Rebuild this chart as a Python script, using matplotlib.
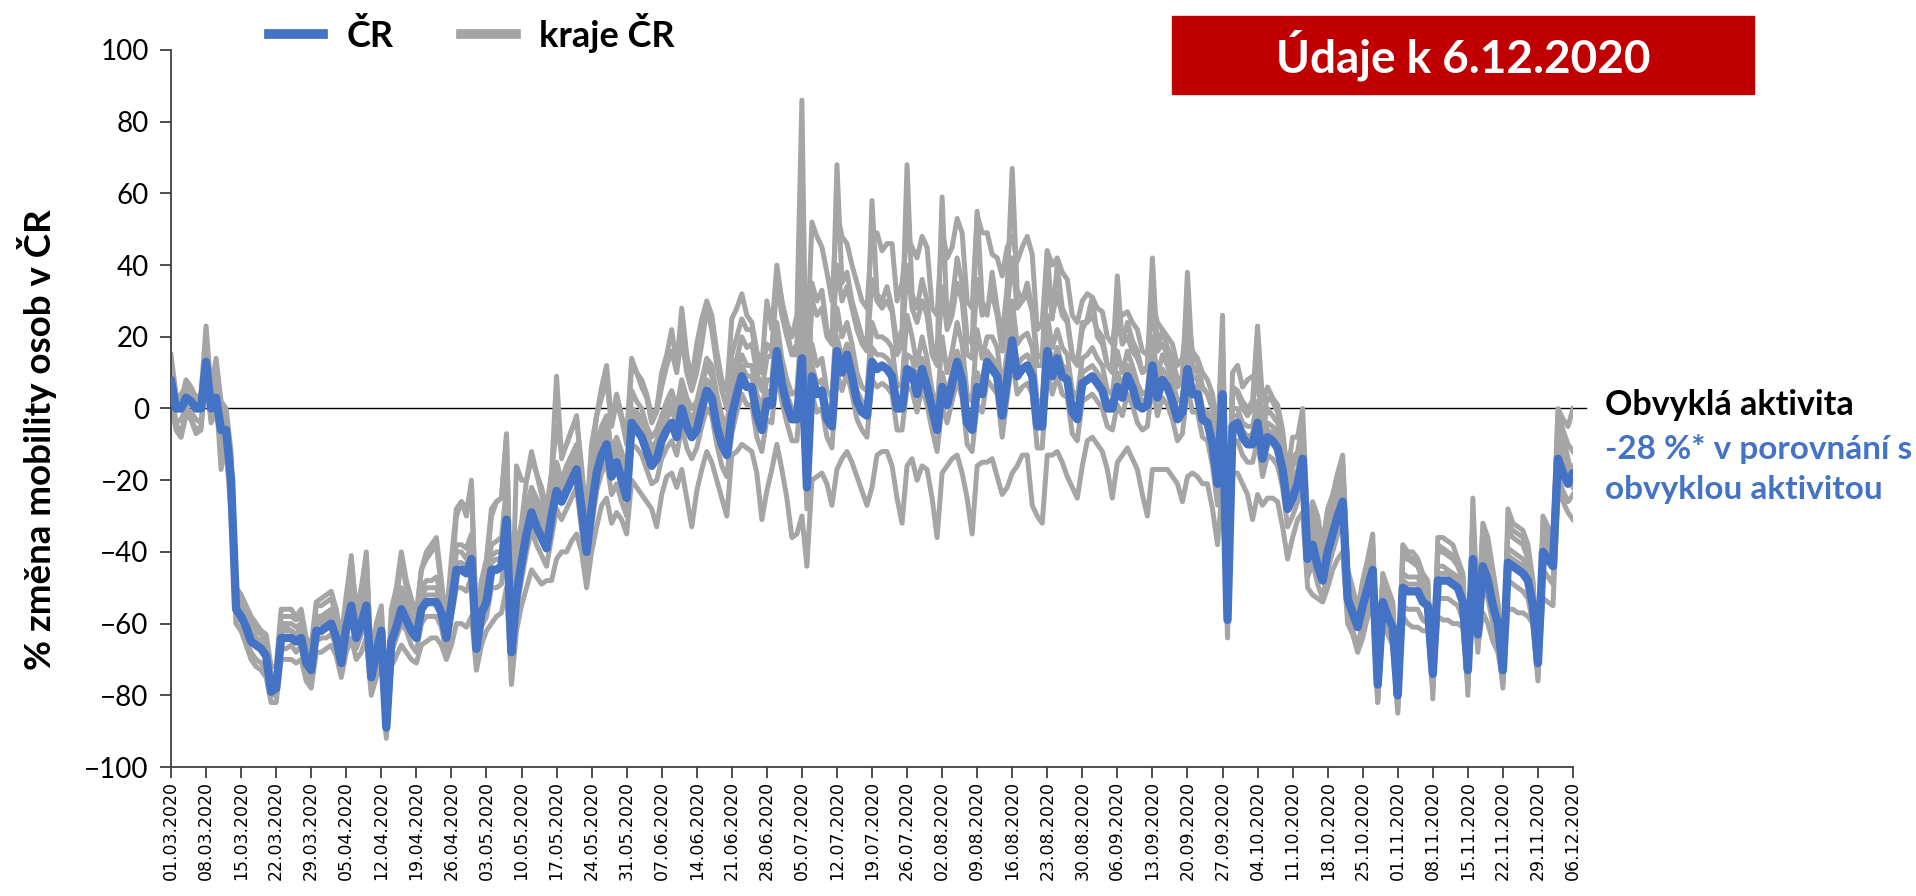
import matplotlib
matplotlib.use("Agg")
import matplotlib.pyplot as plt
from matplotlib.patches import Rectangle
from matplotlib.lines import Line2D

plt.rcParams['font.family'] = ['Lato', 'DejaVu Sans']

BLUE = '#4472C4'
GREY = '#A5A5A5'

# weekly tick labels (Sundays)
tick_labels = [
    '01.03.2020', '08.03.2020', '15.03.2020', '22.03.2020', '29.03.2020',
    '05.04.2020', '12.04.2020', '19.04.2020', '26.04.2020', '03.05.2020',
    '10.05.2020', '17.05.2020', '24.05.2020', '31.05.2020', '07.06.2020',
    '14.06.2020', '21.06.2020', '28.06.2020', '05.07.2020', '12.07.2020',
    '19.07.2020', '26.07.2020', '02.08.2020', '09.08.2020', '16.08.2020',
    '23.08.2020', '30.08.2020', '06.09.2020', '13.09.2020', '20.09.2020',
    '27.09.2020', '04.10.2020', '11.10.2020', '18.10.2020', '25.10.2020',
    '01.11.2020', '08.11.2020', '15.11.2020', '22.11.2020', '29.11.2020',
    '06.12.2020',
]

# daily % change, 01.03.2020 - 06.12.2020 (one row = one week, Sun..Sat)
cr = [
    8, 0, 0, 3, 2, 0, 0,
    13, 0, 3, -6, -6, -20, -56,
    -58, -61, -65, -66, -67, -69, -79,
    -78, -64, -64, -64, -65, -64, -71,
    -73, -62, -62, -61, -60, -64, -71,
    -61, -55, -64, -60, -55, -75, -68,
    -62, -89, -65, -61, -56, -59, -62,
    -64, -56, -54, -54, -54, -57, -64,
    -55, -45, -45, -46, -42, -67, -57,
    -54, -45, -45, -44, -31, -68, -52,
    -43, -35, -29, -33, -36, -39, -30,
    -23, -26, -23, -20, -17, -28, -40,
    -28, -18, -13, -10, -19, -15, -20,
    -25, -4, -6, -8, -12, -16, -14,
    -9, -6, -4, -8, 0, -5, -8,
    -6, 0, 5, 3, -5, -10, -13,
    -2, 4, 9, 6, 6, -2, -6,
    2, 1, 16, 7, 1, -3, -3,
    14, -22, 9, 4, 5, -3, -5,
    16, 10, 15, 9, 2, -1, -2,
    13, 11, 12, 11, 9, 0, 0,
    11, 10, 4, 11, 6, 0, -6,
    6, 1, 7, 13, 8, -4, -6,
    6, 4, 13, 11, 9, -2, 8,
    19, 9, 11, 12, 9, -5, -5,
    16, 9, 14, 9, 8, -1, -3,
    7, 8, 9, 7, 5, 0, 0,
    6, 3, 9, 6, 1, 0, 1,
    12, 3, 8, 6, 2, -3, -1,
    11, 4, 4, -3, -4, -10, -21,
    4, -59, -5, -4, -8, -10, -10,
    -4, -14, -8, -9, -11, -17, -28,
    -25, -21, -14, -42, -38, -44, -48,
    -40, -35, -30, -26, -53, -57, -61,
    -55, -50, -45, -77, -54, -58, -61,
    -80, -50, -51, -51, -51, -54, -55,
    -74, -48, -48, -48, -49, -50, -54,
    -73, -42, -63, -44, -48, -55, -60,
    -73, -43, -44, -45, -46, -48, -55,
    -71, -40, -42, -44, -14, -18, -21,
    -18,
]

kraj_1 = [
    6, -4, -8, -2, -3, -6, -5,
    10, -3, 0, -8, -10, -24, -60,
    -62, -66, -70, -72, -73, -75, -82,
    -82, -70, -70, -70, -71, -70, -76,
    -78, -68, -68, -67, -66, -69, -75,
    -68, -64, -70, -68, -64, -80, -75,
    -70, -92, -72, -69, -66, -68, -70,
    -71, -66, -65, -64, -64, -66, -70,
    -66, -60, -60, -61, -58, -73, -66,
    -62, -60, -58, -57, -50, -77, -62,
    -55, -50, -45, -47, -49, -48, -48,
    -42, -40, -40, -37, -35, -40, -50,
    -40, -33, -27, -25, -32, -29, -31,
    -35, -20, -22, -24, -26, -28, -33,
    -24, -19, -18, -22, -17, -25, -33,
    -23, -17, -12, -15, -20, -25, -30,
    -13, -12, -10, -11, -12, -18, -31,
    -23, -17, -10, -17, -25, -36, -35,
    -30, -44, -20, -19, -18, -21, -27,
    -17, -14, -12, -15, -19, -23, -27,
    -22, -13, -12, -12, -16, -25, -32,
    -16, -14, -20, -16, -17, -25, -36,
    -18, -16, -14, -13, -18, -25, -35,
    -16, -15, -15, -14, -19, -24, -22,
    -18, -16, -13, -13, -27, -30, -32,
    -13, -13, -12, -15, -19, -22, -25,
    -16, -9, -8, -10, -12, -17, -25,
    -15, -13, -11, -14, -17, -24, -30,
    -17, -17, -17, -17, -19, -21, -26,
    -19, -18, -19, -21, -21, -28, -38,
    -22, -60, -18, -18, -21, -24, -31,
    -24, -27, -25, -25, -26, -33, -42,
    -36, -31, -29, -50, -52, -53, -54,
    -50, -45, -42, -40, -60, -63, -68,
    -64, -58, -55, -82, -60, -62, -64,
    -82, -58, -60, -61, -61, -62, -62,
    -78, -58, -59, -59, -60, -60, -61,
    -77, -56, -66, -57, -60, -65, -68,
    -76, -56, -56, -57, -57, -58, -60,
    -74, -53, -54, -55, -22, -26, -29,
    -31,
]

kraj_2 = [
    15, 4, 2, 8, 6, 3, 4,
    23, 5, 14, 2, 0, -12, -50,
    -52, -56, -60, -62, -63, -65, -76,
    -74, -58, -58, -58, -59, -58, -66,
    -70, -55, -55, -54, -53, -58, -66,
    -55, -41, -58, -52, -40, -72, -62,
    -56, -86, -58, -54, -42, -50, -55,
    -57, -45, -42, -40, -38, -50, -58,
    -42, -28, -26, -30, -20, -62, -48,
    -42, -28, -26, -25, -7, -62, -16,
    -20, -20, -12, -18, -24, -30, -18,
    9, -14, -10, -6, -2, -18, -30,
    -10, -2, 6, 12, -4, 4, -2,
    -8, 14, 10, 8, 4, -2, 0,
    10, 15, 22, 12, 28, 15, 8,
    18, 25, 30, 26, 16, 8, 5,
    25, 28, 32, 26, 24, 16, 12,
    30, 22, 40, 30, 24, 20, 26,
    86, -8, 35, 30, 33, 22, 18,
    68, 35, 38, 30, 25, 20, 18,
    58, 32, 30, 34, 28, 18, 22,
    68, 32, 28, 36, 30, 18, 15,
    59, 25, 30, 42, 35, 20, 18,
    55, 30, 26, 38, 28, 20, 34,
    67, 33, 30, 35, 28, 15, 14,
    44, 25, 40, 28, 25, 15, 13,
    22, 25, 31, 20, 18, 12, 12,
    37, 18, 20, 16, 14, 10, 12,
    42, 16, 18, 15, 12, 6, 8,
    38, 12, 10, 6, 4, 0, -10,
    26, -52, 6, 5, 2, 0, 2,
    23, 2, 6, 3, 1, -6, -18,
    -8, -8, 0, -32, -26, -30, -38,
    -28, -24, -18, -13, -45, -50, -56,
    -48, -42, -35, -78, -46, -50, -54,
    -84, -38, -40, -40, -42, -46, -48,
    -81, -36, -36, -37, -38, -42, -46,
    -80, -25, -60, -32, -36, -45, -54,
    -77, -28, -32, -33, -34, -38, -48,
    -75, -30, -33, -36, 0, -3, -5,
    0,
]

kraj_3 = [
    10, 2, 3, 5, 4, 2, 3,
    18, 3, 6, -3, -2, -15, -52,
    -54, -57, -61, -62, -63, -65, -75,
    -74, -60, -60, -60, -61, -60, -67,
    -70, -58, -58, -57, -56, -60, -67,
    -57, -50, -60, -55, -50, -72, -64,
    -58, -86, -61, -57, -50, -54, -58,
    -60, -50, -48, -48, -47, -52, -60,
    -50, -38, -38, -39, -35, -64, -52,
    -48, -38, -37, -36, -22, -65, -45,
    -35, -28, -22, -25, -28, -32, -24,
    -15, -20, -16, -13, -10, -22, -35,
    -20, -10, -5, -2, -12, -8, -12,
    -18, 5, 2, 0, -5, -8, -6,
    -2, 2, 5, 0, 8, 3, 0,
    2, 8, 14, 12, 4, -2, -5,
    8, 14, 20, 17, 18, 10, 5,
    14, 15, 38, 30, 22, 15, 18,
    50, 15, 52, 48, 45, 38, 30,
    55, 48, 46, 40, 35, 30, 28,
    49, 49, 44, 46, 46, 30, 35,
    48, 45, 42, 48, 45, 28, 26,
    50, 42, 45, 53, 49, 30, 28,
    54, 49, 49, 43, 42, 37, 45,
    48, 41, 45, 48, 43, 22, 24,
    44, 40, 42, 38, 36, 26, 24,
    30, 32, 31, 28, 27, 20, 18,
    28, 26, 27, 24, 22, 16, 15,
    30, 24, 22, 20, 18, 12, 14,
    26, 16, 14, 10, 8, 4, -6,
    14, -48, 10, 12, 6, 8, 9,
    8, -3, 3, 2, -1, -8, -20,
    -14, -12, -4, -35, -28, -33, -40,
    -30, -26, -20, -15, -47, -52, -57,
    -50, -45, -38, -78, -47, -51, -55,
    -80, -40, -41, -42, -43, -47, -49,
    -77, -38, -39, -40, -41, -43, -47,
    -75, -30, -58, -34, -38, -46, -55,
    -74, -32, -34, -35, -36, -40, -49,
    -72, -33, -36, -39, -2, -6, -10,
    -12,
]

kraj_4 = [
    12, 3, 4, 6, 5, 3, 2,
    17, 4, 8, 0, -2, -15, -50,
    -52, -55, -58, -60, -62, -63, -72,
    -72, -56, -56, -56, -58, -56, -64,
    -66, -54, -53, -52, -51, -56, -64,
    -52, -42, -56, -50, -41, -70, -60,
    -55, -84, -56, -50, -40, -48, -53,
    -58, -45, -40, -38, -36, -48, -60,
    -48, -30, -26, -28, -22, -60, -48,
    -45, -30, -26, -25, -8, -62, -38,
    -32, -20, -14, -18, -22, -28, -18,
    -5, -12, -10, -6, -3, -16, -32,
    -16, -2, 3, 8, -5, 2, -3,
    -10, 12, 10, 6, 3, -4, -1,
    6, 12, 16, 10, 20, 10, 5,
    10, 18, 28, 22, 12, 5, 0,
    15, 20, 25, 22, 22, 14, 10,
    18, 16, 35, 26, 20, 15, 15,
    40, 0, 30, 26, 28, 20, 18,
    40, 30, 34, 28, 22, 18, 16,
    36, 30, 28, 30, 27, 15, 18,
    40, 28, 24, 30, 26, 15, 12,
    34, 22, 26, 35, 30, 15, 14,
    36, 26, 28, 32, 26, 16, 28,
    42, 28, 30, 32, 27, 12, 12,
    36, 26, 32, 26, 24, 14, 12,
    24, 24, 26, 22, 20, 12, 10,
    26, 18, 24, 19, 16, 10, 11,
    30, 16, 22, 17, 14, 8, 9,
    28, 14, 13, 6, 4, 0, -10,
    18, -55, 5, 4, 0, -2, 0,
    12, -6, 0, -2, -4, -10, -22,
    -16, -14, -8, -38, -30, -35, -42,
    -33, -28, -22, -16, -48, -52, -58,
    -50, -44, -38, -78, -48, -52, -56,
    -82, -42, -42, -43, -44, -48, -50,
    -78, -40, -40, -41, -42, -44, -48,
    -76, -32, -60, -36, -40, -47, -55,
    -74, -34, -36, -37, -38, -42, -50,
    -72, -35, -38, -40, -4, -8, -14,
    -20,
]

kraj_5 = [
    2, -6, -8, 1, -3, -7, -6,
    12, -2, 4, -17, -10, -30, -54,
    -55, -58, -62, -64, -66, -68, -77,
    -76, -62, -61, -62, -63, -61, -70,
    -72, -60, -59, -58, -57, -61, -69,
    -58, -48, -62, -57, -48, -74, -66,
    -60, -88, -62, -57, -52, -55, -60,
    -62, -52, -50, -50, -50, -54, -62,
    -52, -40, -40, -42, -38, -66, -54,
    -50, -41, -40, -40, -26, -66, -48,
    -38, -30, -24, -28, -31, -35, -26,
    -18, -22, -19, -16, -13, -24, -37,
    -23, -12, -7, -4, -14, -10, -15,
    -20, 0, -1, -3, -7, -11, -9,
    -3, 0, 2, -3, 6, 0, -3,
    0, 6, 12, 9, 1, -5, -8,
    4, 10, 15, 12, 12, 4, 0,
    8, 8, 24, 14, 8, 4, 5,
    25, -16, 18, 12, 14, 5, 3,
    28, 20, 24, 18, 10, 6, 5,
    24, 20, 20, 19, 17, 6, 7,
    26, 20, 12, 20, 14, 5, 0,
    20, 10, 16, 24, 18, 4, 2,
    22, 14, 20, 20, 17, 5, 16,
    30, 18, 20, 21, 17, 2, 2,
    26, 17, 22, 17, 15, 5, 3,
    14, 15, 17, 14, 12, 5, 4,
    16, 10, 16, 12, 7, 4, 5,
    20, 9, 15, 12, 8, 2, 3,
    19, 9, 8, 0, -1, -6, -16,
    10, -57, 0, 0, -4, -5, -5,
    2, -10, -4, -5, -7, -13, -25,
    -20, -17, -10, -40, -34, -40, -45,
    -36, -31, -26, -21, -50, -54, -59,
    -52, -47, -41, -79, -51, -55, -58,
    -82, -46, -47, -47, -47, -50, -52,
    -76, -44, -44, -45, -46, -47, -51,
    -75, -38, -61, -40, -44, -51, -57,
    -75, -39, -40, -41, -42, -45, -52,
    -73, -37, -39, -42, -8, -12, -16,
    -16,
]

kraj_6 = [
    4, -4, -3, 0, -1, -3, -4,
    9, -4, -1, -9, -12, -26, -60,
    -62, -65, -68, -70, -71, -73, -80,
    -80, -67, -67, -66, -68, -66, -74,
    -76, -65, -64, -64, -63, -66, -73,
    -64, -58, -67, -63, -58, -78, -72,
    -66, -91, -68, -64, -60, -62, -66,
    -68, -60, -58, -58, -58, -61, -68,
    -58, -50, -50, -51, -47, -71, -61,
    -58, -50, -50, -49, -36, -72, -56,
    -48, -40, -34, -38, -41, -44, -36,
    -28, -31, -28, -25, -22, -34, -46,
    -33, -23, -18, -15, -24, -21, -26,
    -30, -10, -11, -13, -17, -21, -20,
    -14, -11, -9, -13, -5, -11, -14,
    -11, -5, 0, -2, -10, -16, -19,
    -7, -1, 4, 1, 1, -8, -12,
    -3, -4, 10, 2, -4, -9, -9,
    8, -28, 4, -1, 0, -8, -11,
    10, 5, 10, 4, -3, -6, -8,
    8, 6, 7, 6, 4, -6, -6,
    6, 5, -1, 6, 1, -6, -12,
    1, -4, 2, 8, 3, -10, -12,
    1, -1, 8, 6, 4, -8, 3,
    14, 4, 6, 7, 4, -11, -11,
    11, 4, 9, 4, 3, -7, -9,
    2, 3, 4, 2, 0, -5, -6,
    1, -2, 4, 1, -4, -6, -5,
    7, -2, 3, 1, -3, -9, -7,
    6, -1, -1, -8, -9, -16, -27,
    -2, -64, -10, -9, -13, -15, -15,
    -9, -19, -13, -14, -16, -22, -33,
    -30, -26, -19, -47, -43, -49, -53,
    -45, -40, -35, -31, -58, -62, -66,
    -60, -55, -50, -82, -59, -63, -66,
    -85, -55, -56, -56, -56, -59, -60,
    -79, -53, -53, -53, -54, -55, -59,
    -78, -47, -68, -49, -53, -60, -65,
    -78, -48, -49, -50, -51, -53, -60,
    -76, -45, -47, -49, -19, -23, -26,
    -24,
]

kraj_7 = [
    9, 1, 2, 5, 4, 1, 1,
    16, 2, 5, -3, -4, -18, -55,
    -56, -59, -63, -64, -65, -67, -78,
    -77, -62, -62, -62, -63, -62, -69,
    -72, -60, -60, -59, -58, -62, -70,
    -60, -52, -62, -58, -52, -74, -66,
    -60, -88, -63, -59, -54, -57, -61,
    -63, -54, -52, -52, -52, -55, -63,
    -53, -43, -43, -44, -40, -66, -55,
    -52, -43, -42, -42, -29, -67, -50,
    -41, -33, -27, -31, -34, -37, -28,
    -20, -24, -21, -18, -15, -26, -38,
    -25, -15, -10, -7, -17, -12, -17,
    -22, -1, -3, -5, -9, -13, -11,
    -6, -3, 0, -5, 3, -2, -5,
    -3, 3, 8, 6, -2, -7, -10,
    1, 7, 12, 9, 9, 1, -3,
    5, 4, 20, 10, 4, 0, 0,
    18, -20, 12, 7, 8, 0, -2,
    20, 14, 18, 12, 5, 2, 1,
    17, 15, 15, 14, 12, 3, 3,
    15, 14, 7, 14, 9, 3, -3,
    10, 4, 10, 16, 11, -1, -3,
    10, 7, 16, 14, 12, 1, 11,
    23, 12, 14, 15, 12, -2, -2,
    20, 12, 17, 12, 11, 2, 0,
    10, 11, 12, 10, 8, 2, 2,
    10, 6, 12, 9, 4, 2, 3,
    15, 6, 11, 9, 5, -1, 1,
    14, 6, 6, -1, -2, -8, -19,
    6, -58, -2, -2, -6, -8, -7,
    -1, -12, -6, -7, -9, -15, -27,
    -22, -19, -12, -41, -36, -42, -47,
    -38, -33, -28, -23, -52, -56, -60,
    -53, -48, -43, -80, -52, -56, -59,
    -83, -48, -49, -49, -49, -52, -53,
    -77, -46, -46, -46, -47, -48, -52,
    -76, -40, -62, -42, -46, -53, -58,
    -76, -41, -42, -43, -44, -46, -53,
    -74, -38, -40, -43, -10, -14, -18,
    -22,
]

kraje = [kraj_1, kraj_2, kraj_3, kraj_4, kraj_5, kraj_6, kraj_7]

W, H = 1916, 896
fig = plt.figure(figsize=(W / 100, H / 100), dpi=100)
ax = fig.add_axes([171 / W, 1 - 767 / H, (1573 - 171) / W, (767 - 50) / H])

# zero line ("usual activity"), runs a bit past the last day
ax.plot([0, 282.5], [0, 0], color='black', lw=1.0, clip_on=False, zorder=1)

for k in kraje:
    ax.plot(range(len(k)), k, color=GREY, lw=3.6, solid_joinstyle='round', zorder=2)
ax.plot(range(len(cr)), cr, color=BLUE, lw=6, solid_joinstyle='round',
        solid_capstyle='round', zorder=3)

ax.set_xlim(0, 280)
ax.set_ylim(-100, 100)
ax.set_yticks(range(-100, 101, 20))
ax.set_xticks(range(0, 281, 7))
ax.set_xticklabels(tick_labels, rotation=90, family='DejaVu Sans', fontsize=12.5)
for lab in ax.get_yticklabels():
    lab.set_fontsize(20)

for s in ['top', 'right']:
    ax.spines[s].set_visible(False)
for s in ['left', 'bottom']:
    ax.spines[s].set_color('#404040')
    ax.spines[s].set_linewidth(1.3)
ax.tick_params(axis='y', length=8, width=1.3, color='#404040', pad=8)
ax.tick_params(axis='x', length=8, width=1.3, color='#404040', pad=2)

fig.text(37 / W, 1 - 440 / H, '% změna mobility osob v ČR', rotation=90,
         ha='center', va='center', fontsize=26.5, fontweight='bold')

# legend
handles = [Line2D([], [], color=BLUE, lw=7), Line2D([], [], color=GREY, lw=7)]
fig.legend(handles, ['ČR', 'kraje ČR'], loc='center left',
           bbox_to_anchor=(236 / W, 1 - 33 / H), ncol=2, frameon=False,
           handlelength=1.52, handletextpad=0.65, columnspacing=1.85,
           prop={'weight': 'bold', 'size': 26})

# red date box
fig.add_artist(Rectangle((1172 / W, 1 - 94 / H), 582 / W, 78 / H,
                         transform=fig.transFigure, color='#C00000'))
fig.text(1463 / W, 1 - 55 / H, 'Údaje k 6.12.2020', ha='center', va='center',
         color='white', fontsize=33, fontweight='bold')

# right-hand notes
fig.text(1605 / W, 1 - 405 / H, 'Obvyklá aktivita', ha='left', va='center',
         fontsize=24.5, fontweight='bold')
fig.text(1605 / W, 1 - 449 / H, '-28 %* v porovnání s', ha='left', va='center',
         fontsize=24, fontweight='bold', color=BLUE)
fig.text(1605 / W, 1 - 489 / H, 'obvyklou aktivitou', ha='left', va='center',
         fontsize=24, fontweight='bold', color=BLUE)

fig.savefig('out.png', dpi=100)
